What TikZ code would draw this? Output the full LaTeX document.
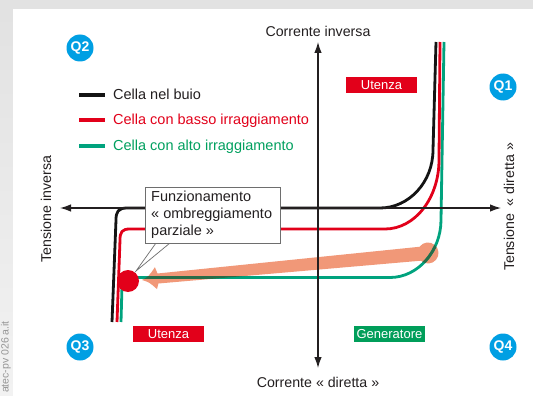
\documentclass[tikz,border=0pt]{standalone}
\usepackage{fontspec}
\setmainfont{Liberation Sans}
\usetikzlibrary{arrows.meta}
\definecolor{cblack}{RGB}{20,20,20}
\definecolor{txt}{RGB}{35,31,32}
\definecolor{cred}{RGB}{226,0,26}
\definecolor{cgreen}{RGB}{0,163,126}
\definecolor{dgreen}{RGB}{40,108,72}
\definecolor{tgreen}{RGB}{0,160,95}
\definecolor{boxgreen}{RGB}{0,158,90}
\definecolor{qblue}{RGB}{0,159,227}
\definecolor{salmon}{RGB}{241,152,120}
\definecolor{bgtop}{RGB}{226,226,226}
\definecolor{bgleft}{RGB}{242,242,242}
\definecolor{boxgray}{RGB}{110,110,110}
\definecolor{wmgray}{RGB}{150,150,150}
\begin{document}
\begin{tikzpicture}[x=1pt,y=-1pt,
  curve/.style={line width=2.8pt, line join=round},
  axis/.style={line width=1.2pt, txt, {Latex[length=11pt,width=7.5pt]}-{Latex[length=11pt,width=7.5pt]}},
  qbub/.style={circle, fill=qblue, text=white, minimum size=27pt, inner sep=0pt, font=\fontsize{14}{14}\selectfont\bfseries},
  tag/.style={minimum width=71pt, minimum height=16pt, inner sep=0pt, text=white, font=\fontsize{13}{13}\selectfont},
  lbl/.style={font=\fontsize{14.2}{14.2}\selectfont, text=txt, inner sep=0pt},
  leg/.style={font=\fontsize{14.5}{14.5}\selectfont, inner sep=0pt, anchor=base west},
  legline/.style={line width=3.5pt},
  ctext/.style={font=\fontsize{14.5}{14.5}\selectfont, text=txt, inner sep=0pt, anchor=base west},
  wm/.style={font=\fontsize{10.5}{10.5}\selectfont, text=wmgray, inner sep=0pt, rotate=90}
]
\useasboundingbox (0,0) rectangle (533,396);
% background
\fill[bgtop] (0,0) rectangle (533,9);
\shade[top color=bgtop, bottom color=bgleft] (0,9) rectangle (13,396);
\fill[white] (13,9) rectangle (533,396);
\node[wm] (wm) at (6,357) {atec-pv 026 a.it};

% paths
\def\arrowpath{(142,280) .. controls (148.7,276.4) .. (154.9,267.2) -- (157.5,273.5) -- (419.55,246.77)
  .. controls (423.08,241.98) and (429.89,241.08) .. (434.54,244.79)
  .. controls (439.20,248.50) and (439.85,255.33) .. (435.97,259.84)
  .. controls (432.09,264.36) and (425.24,264.74) .. (420.87,260.70)
  -- (158.4,283.5) -- (157.0,289.1) .. controls (149.3,282.3) .. (142,280) -- cycle}
\def\greenpath{(444,42) -- (441,220) .. controls (441,251) and (418,277.5) .. (390,277.5) -- (127,277.5) .. controls (123,277.5) and (122,281) .. (122,286) -- (121,322)}

% salmon arrow
\fill[salmon] \arrowpath;

% curves
\draw[curve, cgreen] \greenpath;
\draw[curve, cred] (440,42) -- (439,160) .. controls (439,198) and (415,229) .. (385,229) -- (130,229) .. controls (122,229) and (120,232) .. (120,240) -- (117,322);
\draw[curve, cblack] (436,42) -- (433,150) .. controls (433,182) and (409,208) .. (380,208) -- (127,208) .. controls (118,208) and (116,212) .. (116,220) -- (112,322);
\begin{scope}
  \clip \arrowpath;
  \draw[curve, dgreen] \greenpath;
\end{scope}

% axes
\coordinate (vt) at (318,42);
\coordinate (vb) at (318,368);
\coordinate (hl) at (60,208);
\coordinate (hr) at (501,208);
\draw[axis] (vb) -- (vt);
\draw[axis] (hl) -- (hr);

% red dot
\node[circle, fill=cred, minimum size=22pt, inner sep=0pt] (dot) at (128,281) {};

% callout
\coordinate (pa) at (156,243);
\coordinate (pb) at (170,243);
\coordinate (ptip) at (136,271);
\fill[white] (pa) -- (ptip) -- (pb) -- cycle;
\draw[boxgray, line width=0.7pt] (pa) -- (ptip) -- (pb);
\node[draw=boxgray, fill=white, line width=0.8pt, minimum width=135pt, minimum height=56pt, anchor=north west, inner sep=0pt] (call) at (145,187) {};
\node[ctext] (c1) at (151,201.5) {Funzionamento};
\node[ctext] (c2) at (151,218.5) {« ombreggiamento};
\node[ctext] (c3) at (151,235.5) {parziale »};

% axis labels
\node[lbl, anchor=base] (ci) at (318,37) {Corrente inversa};
\node[lbl, anchor=base] (cd) at (318,387) {Corrente « diretta »};
\node[lbl, rotate=90] (ti) at (46,209) {Tensione inversa};
\node[lbl, rotate=90] (td) at (509,207) {Tensione \ « diretta »};

% quadrant bubbles
\node[qbub] (q2) at (80,48) {Q2};
\node[qbub] (q1) at (503,87) {Q1};
\node[qbub] (q3) at (80,347) {Q3};
\node[qbub] (q4) at (503,347) {Q4};

% tags
\node[tag, fill=cred] (u1) at (381.5,85) {Utenza};
\node[tag, fill=cred] (u2) at (168.5,334) {Utenza};
\node[tag, fill=boxgreen] (g1) at (389.5,334) {Generatore};

% legend
\draw[legline, cblack] (79,95) -- (105,95);
\draw[legline, cred] (79,120) -- (105,120);
\draw[legline, cgreen] (79,146) -- (105,146);
\node[leg, text=txt] (l1) at (113,99.5) {Cella nel buio};
\node[leg, text=cred] (l2) at (113,124.5) {Cella con basso irraggiamento};
\node[leg, text=tgreen] (l3) at (113,150.5) {Cella con alto irraggiamento};
\end{tikzpicture}
\end{document}
